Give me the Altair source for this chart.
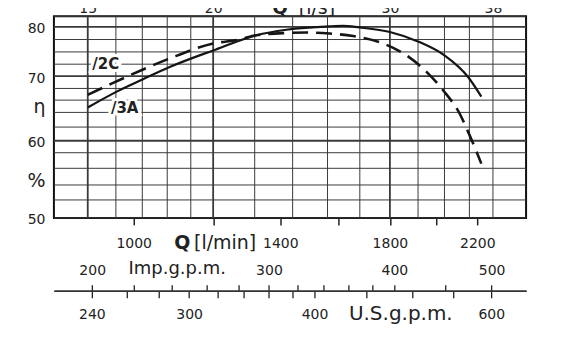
import altair as alt
import pandas as pd

# ---------------- data ----------------
pumps = ["/3A", "/2C"]
# flow Q in l/s and efficiency eta in %
q_3A = [15.0, 16.05, 17.03, 18.1, 20.0, 22.08, 23.66, 26.12, 26.94, 27.97, 30.0, 32.09, 34.0, 35.88, 37.0]
eta_3A = [64.8, 67.5, 69.5, 71.9, 75.3, 78.35, 79.45, 80.15, 80.25, 79.9, 79.0, 77.0, 74.3, 69.9, 66.6]
q_2C = [15.0, 15.9, 17.03, 18.1, 20.0, 21.25, 22.08, 23.66, 24.78, 26.12, 27.57, 29.54, 31.16, 32.63, 33.89, 35.2, 36.02, 37.0]
eta_2C = [66.9, 68.9, 71.4, 73.66, 76.7, 77.5, 78.35, 78.8, 78.9, 78.7, 78.2, 76.7, 74.3, 70.9, 67.7, 63.85, 60.8, 56.6]

# axes / grids
ls_labels = [15, 20, 30, 38]
ls_grid = [15, 16, 17, 18, 19, 20, 22, 24, 26, 28, 30, 32, 34, 36, 38]
ls_major = [15, 20, 30]
lmin_ticks = [1000, 1200, 1400, 1600, 1800, 2000, 2200]
lmin_labels = [1000, 1400, 1800, 2200]
imp_ticks = [200, 220, 240, 260, 280, 300, 320, 340, 360, 380, 400, 450, 500]
imp_labels = [200, 300, 400, 500]
us_ticks = [240, 260, 280, 300, 320, 340, 360, 380, 400, 450, 500, 550, 600]
us_labels = [240, 300, 400, 600]
eta_grid = [50, 52, 54, 56, 58, 60, 62, 64, 66, 68, 70, 72.5, 75, 77.5, 80, 82.5]
eta_major = [60, 70, 80]
eta_labels = [50, 60, 70, 80]
ETA_SYMBOL_AT = 65.3
PCT_SYMBOL_AT = 54.74

# ---------------- scales & styles ----------------
L_PER_IMP_GAL = 4.54609
L_PER_US_GAL = 3.785411784
FONT = "DejaVu Sans"
INK = "#222222"

xscale = alt.Scale(type="log", domain=[13.88, 41.0], nice=False, zero=False)
# the efficiency scale of the original sheet is not linear: piecewise mapping
ETA_RANGE = [202, 184, 169, 152.3, 136.7, 124.7, 111, 96.3, 84, 72.3, 60, 48, 35.7, 23.3, 10.7, 0]
yscale = alt.Scale(type="linear", domain=eta_grid, range=ETA_RANGE, nice=False, zero=False)

curve_df = pd.concat([
    pd.DataFrame({"pump": pumps[0], "q": q_3A, "eta": eta_3A}),
    pd.DataFrame({"pump": pumps[1], "q": q_2C, "eta": eta_2C}),
])
first_df = pd.DataFrame({"pump": pumps, "q": [q_3A[0], q_2C[0]], "eta": [eta_3A[0], eta_2C[0]]})
vgrid_df = pd.DataFrame({"q": ls_grid, "major": [v in ls_major for v in ls_grid]})
hgrid_df = pd.DataFrame({"eta": eta_grid, "major": [v in eta_major for v in eta_grid]})
anchor_df = pd.DataFrame({"q": [20.0]})
anchor_eta_df = pd.DataFrame({"eta": [70.0]})

X = lambda axis=None: alt.X("q:Q", scale=xscale, axis=axis)
Y = lambda axis=None: alt.Y("eta:Q", scale=yscale, axis=axis)
width_rule = alt.when("datum.major").then(alt.value(1.8)).otherwise(alt.value(1.0))

vgrid = alt.Chart(vgrid_df).mark_rule(color="#3a3a3a").encode(x=X(), strokeWidth=width_rule)
hgrid = alt.Chart(hgrid_df).mark_rule(color="#3a3a3a").encode(y=Y(), strokeWidth=width_rule)

line_3A = alt.Chart(curve_df).transform_filter(alt.datum.pump == pumps[0]).mark_line(
    color="#151515", strokeWidth=2.2, interpolate="monotone").encode(x=X(), y=Y())
line_2C = alt.Chart(curve_df).transform_filter(alt.datum.pump == pumps[1]).mark_line(
    color="#151515", strokeWidth=2.6, strokeDash=[16, 8], interpolate="monotone").encode(x=X(), y=Y())


def series_label(name, dx, dy):
    base = alt.Chart(first_df).transform_filter(alt.datum.pump == name)
    style = dict(dx=dx, dy=dy, font=FONT, fontSize=15, fontWeight="bold", align="center", baseline="middle")
    halo = base.mark_text(stroke="white", strokeWidth=6, fill="white", **style).encode(x=X(), y=Y(), text="pump:N")
    txt = base.mark_text(fill=INK, **style).encode(x=X(), y=Y(), text="pump:N")
    return [halo, txt]


COMMON = dict(grid=False, labelFont=FONT, titleFont=FONT, labelColor=INK, titleColor=INK,
              tickColor=INK, domainColor="#333333", labelOverlap=False, labelFlush=False)


def axis_layer(**kw):
    opts = dict(COMMON, titleAlign="center", titleBaseline="alphabetic", titleAngle=0)
    opts.update(kw)
    return alt.Chart(anchor_df).mark_rule(opacity=0).encode(x=X(alt.Axis(**opts)))


def y_axis_layer(**kw):
    opts = dict(COMMON, orient="left", ticks=False, tickSize=0, domain=False, title="",
                labelPadding=9, labelAlign="right", labelBaseline="middle", labelOffset=2)
    opts.update(kw)
    return alt.Chart(anchor_eta_df).mark_rule(opacity=0).encode(y=Y(alt.Axis(**opts)))


def label_expr(labels, factor):
    lst = ",".join(str(v) for v in labels)
    return (f"indexof([{lst}], round(datum.value*{factor})) >= 0 ? "
            f"format(round(datum.value*{factor}), 'd') : ''")


ax_y_num = y_axis_layer(values=eta_labels, format="d", labelFontSize=14)
ax_y_sym = y_axis_layer(values=[PCT_SYMBOL_AT, ETA_SYMBOL_AT],
                        labelExpr=f"datum.value == {ETA_SYMBOL_AT} ? 'η' : '%'", labelFontSize=19)

ax_ls = axis_layer(orient="top", values=ls_labels, format="d", ticks=False, tickSize=0, domain=False,
                   labelPadding=3.5, labelBaseline="alphabetic", labelFontSize=14,
                   title="Q", titleFontWeight="bold", titleFontSize=18, titleX=226, titleY=-3)
ax_ls_unit = axis_layer(orient="top", labels=False, ticks=False, tickSize=0, domain=False,
                        title="[l/s]", titleFontWeight="normal", titleFontSize=19, titleX=263, titleY=-3)
ax_lmin = axis_layer(orient="bottom", values=[v / 60 for v in lmin_ticks], labelExpr=label_expr(lmin_labels, 60),
                     tickSize=7, tickWidth=1.5, domain=False, labelPadding=23, labelBaseline="alphabetic",
                     labelFontSize=14, title="Q", titleFontWeight="bold", titleFontSize=19, titleX=128, titleY=31)
ax_lmin_unit = axis_layer(orient="bottom", labels=False, ticks=False, tickSize=0, domain=False,
                          title="[l/min]", titleFontWeight="normal", titleFontSize=19, titleX=171, titleY=31)
ax_imp = axis_layer(orient="top", offset=-275, values=[v * L_PER_IMP_GAL / 60 for v in imp_ticks],
                    labelExpr=label_expr(imp_labels, 60 / L_PER_IMP_GAL), tickSize=6, tickWidth=1.3,
                    domain=True, domainWidth=1.5, labelPadding=10, labelBaseline="alphabetic", labelFontSize=14,
                    title="Imp.g.p.m.", titleFontWeight="normal", titleFontSize=18, titleX=123, titleY=-17)
ax_us = axis_layer(orient="bottom", offset=73, values=[v * L_PER_US_GAL / 60 for v in us_ticks],
                   labelExpr=label_expr(us_labels, 60 / L_PER_US_GAL), tickSize=7, tickWidth=1.3,
                   domain=True, domainWidth=1.5, labelPadding=21, labelBaseline="alphabetic", labelFontSize=14,
                   title="U.S.g.p.m.", titleFontWeight="normal", titleFontSize=20, titleX=347, titleY=29)

chart = alt.layer(
    vgrid, hgrid, line_3A, line_2C,
    *series_label(pumps[0], 37, 1),
    *series_label(pumps[1], 18, -30.5),
    ax_y_num, ax_y_sym,
    ax_ls, ax_ls_unit, ax_lmin, ax_lmin_unit, ax_imp, ax_us,
).resolve_axis(x="independent", y="independent").properties(
    width=473, height=202,
    padding={"left": 46, "top": 8, "right": 40, "bottom": 110},
    autosize=alt.AutoSizeParams(type="none"),
    background="white",
).configure_view(stroke="#111111", strokeWidth=2)

chart.save("out.html", embed_options={"renderer": "svg", "actions": False})
